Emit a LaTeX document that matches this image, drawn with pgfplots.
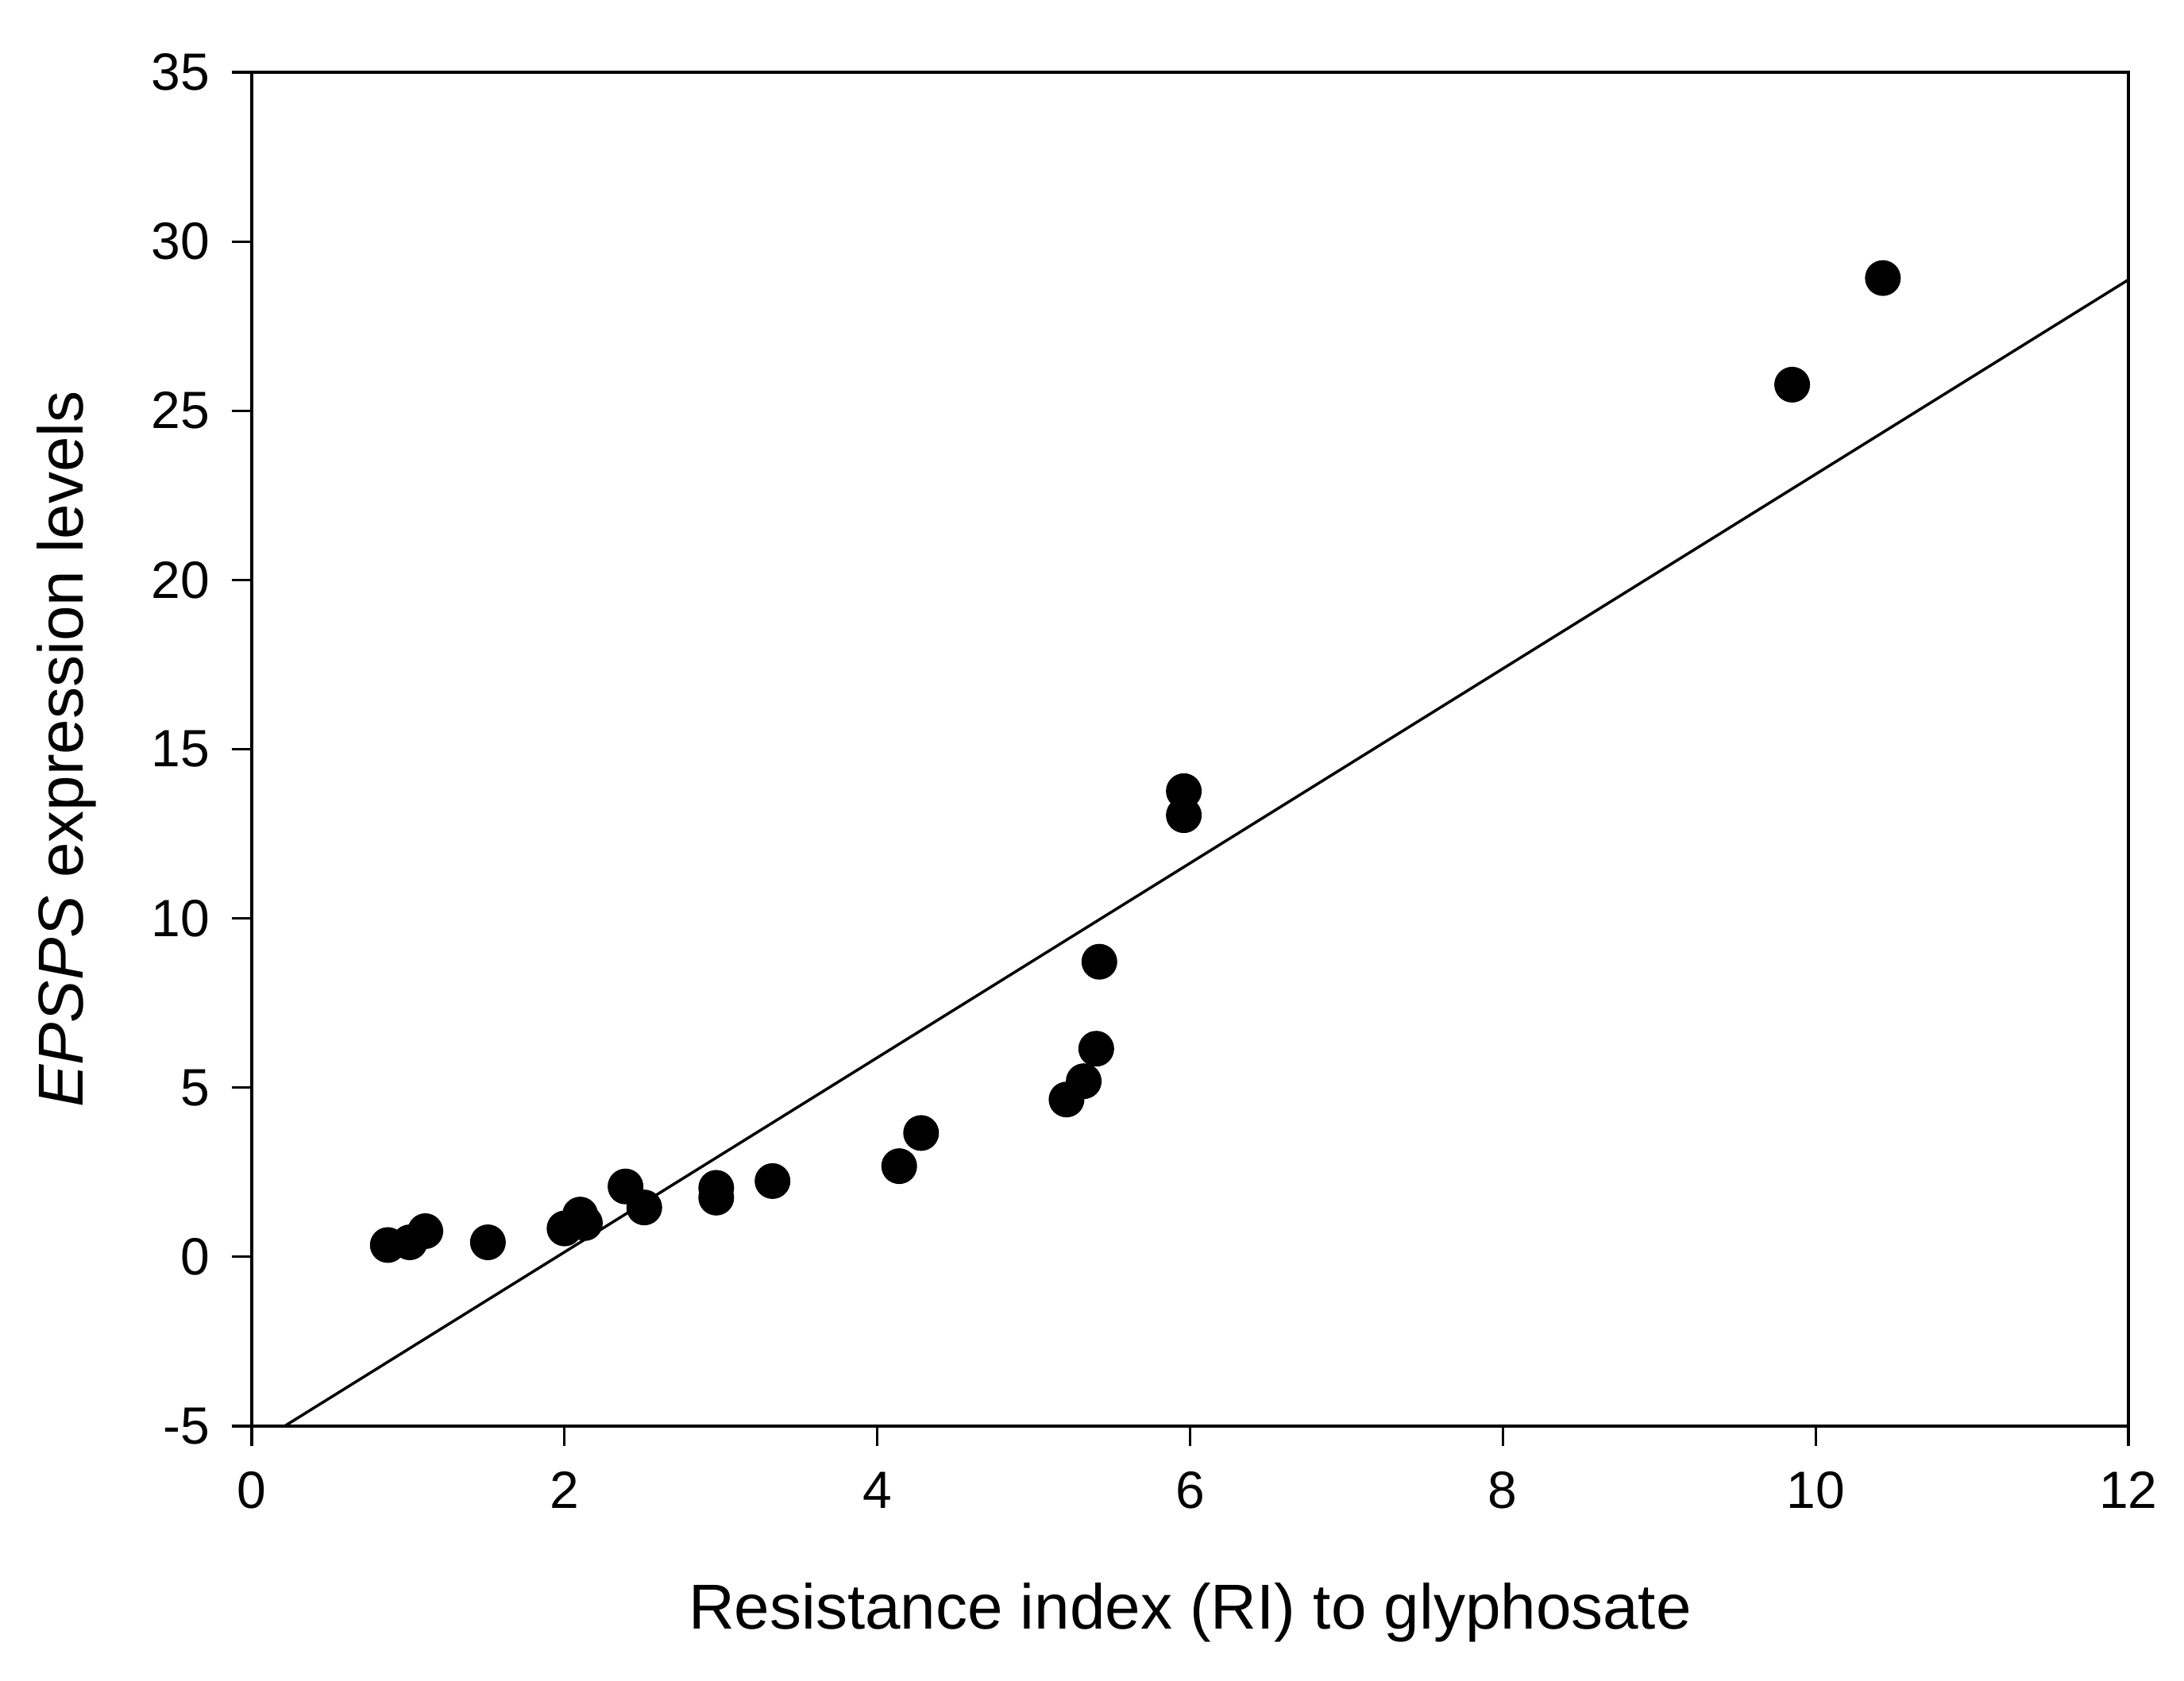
\documentclass[border=0pt]{standalone}
\usepackage{pgfplots}
\pgfplotsset{compat=1.18}
\usepackage{fontspec}
\setmainfont{Liberation Sans}
\begin{document}
\begin{tikzpicture}
\path[use as bounding box] (-63.4pt,-64.2pt) rectangle (486.6pt,359.2pt);
\begin{axis}[
  at={(0,0)}, anchor=south west,
  scale only axis, width=472.6pt, height=341pt,
  xmin=0, xmax=12, ymin=-5, ymax=35,
  xtick={0,2,...,12}, ytick={-5,0,...,35},
  tick align=outside, xtick pos=bottom, ytick pos=left,
  major tick length=5pt,
  axis line style={line width=0.65pt},
  every tick/.style={line width=0.65pt, black},
  /pgf/number format/assume math mode=true,
  ticklabel style={font=\fontsize{13.2}{15}\selectfont},
  xticklabel style={yshift=-3pt},
  yticklabel style={xshift=-2pt},
  xlabel={Resistance index (RI) to glyphosate},
  ylabel={\textit{EPSPS} expression levels},
  label style={font=\fontsize{16}{19}\selectfont},
  xlabel style={at={(axis description cs:0.5,0)}, anchor=center, yshift=-47pt},
  ylabel style={at={(axis description cs:0,0.5)}, anchor=center, yshift=46.6pt},
  clip=false,
]
\addplot[black, line width=0.7pt, no marks] coordinates {(0.21,-5) (12,28.87)};
\addplot[only marks, mark=*, mark size=4.3pt, black] coordinates {
(0.87,0.35) (1.01,0.43) (1.11,0.76) (1.51,0.43) (2.00,0.84) (2.10,1.25)
(2.13,1.00) (2.39,2.08) (2.51,1.46) (2.97,1.75) (2.97,2.04) (3.33,2.24)
(4.14,2.68) (4.28,3.66) (5.21,4.65) (5.32,5.19) (5.40,6.15) (5.42,8.72)
(5.96,13.76) (5.96,13.05) (9.85,25.77) (10.43,28.92)
};
\end{axis}
\end{tikzpicture}
\end{document}
